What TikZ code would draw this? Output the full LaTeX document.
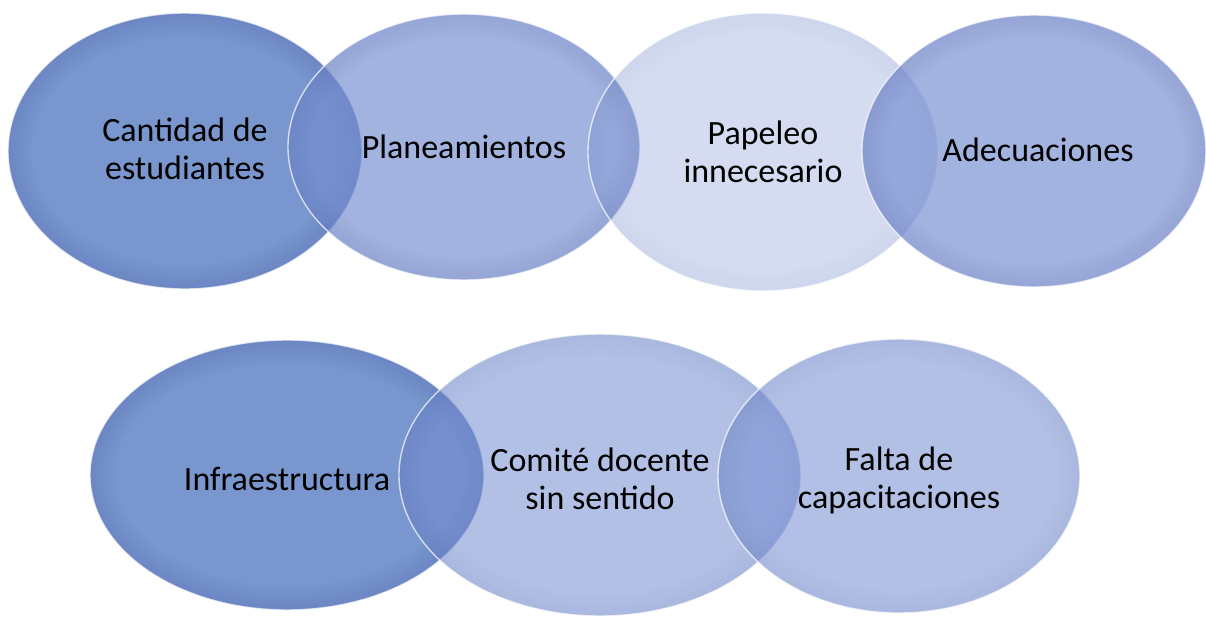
\documentclass[tikz,border=0pt]{standalone}
\usepackage{fontspec}
\setmainfont{Carlito}
\usetikzlibrary{shapes.geometric}
\definecolor{bbase}{RGB}{116,140,208}
\definecolor{bsolid}{RGB}{121,151,206}
\definecolor{bshade}{RGB}{50,70,140}
\tikzset{
  bub/.style n args={4}{ellipse, inner sep=0pt, outer sep=0pt,
    minimum width=#1, minimum height=#2, fill=#3, fill opacity=#4,
    draw=white, draw opacity=0.7, line width=0.7pt,
    path picture={
      \foreach \w in {3,6,9,12,15,18,21,24}{
        \draw[bshade, line width=\w pt, draw opacity=0.016*#4]
          (path picture bounding box.center) ellipse [x radius=#1/2, y radius=#2/2];}
    }},
  lbl/.style={text=black, align=center, inner sep=0pt,
    font=\fontsize{17}{19}\selectfont}
}
\begin{document}
\begin{tikzpicture}[x=0.5pt,y=-0.5pt]
\useasboundingbox (0,0) rectangle (1206,618);
% top row
\node[bub={177pt}{138pt}{bsolid}{1}]    (e1) at (185,151) {};
\node[bub={176pt}{133pt}{bbase}{0.66}]  (e2) at (464,147) {};
\node[bub={175pt}{139pt}{bbase}{0.30}]  (e3) at (763,152) {};
\node[bub={172pt}{136pt}{bbase}{0.66}]  (e4) at (1034,151) {};
% bottom row
\node[bub={197pt}{135pt}{bsolid}{1}]    (e5) at (287,475) {};
\node[bub={201pt}{141pt}{bbase}{0.55}]  (e6) at (600,475) {};
\node[bub={181pt}{137pt}{bbase}{0.55}]  (e7) at (899,476) {};
% labels
\node[lbl] (t1) at (185,149) {Cantidad de\\estudiantes};
\node[lbl] (t2) at (464,147) {Planeamientos};
\node[lbl] (t3) at (763,152) {Papeleo\\innecesario};
\node[lbl] (t4) at (1038,150) {Adecuaciones};
\node[lbl] (t5) at (287,479) {Infraestructura};
\node[lbl] (t6) at (600,479) {Comité docente\\sin sentido};
\node[lbl] (t7) at (899,480) {Falta de\\capacitaciones};
\end{tikzpicture}
\end{document}
